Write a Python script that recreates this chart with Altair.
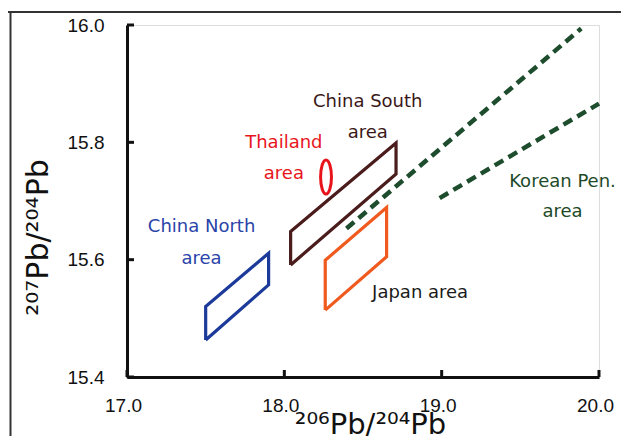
import altair as alt
import pandas as pd

# ---- data ----
china_north_x = [17.50, 17.50, 17.90, 17.90, 17.50]
china_north_y = [15.463, 15.520, 15.611, 15.557, 15.463]

china_south_x = [18.04, 18.04, 18.71, 18.71, 18.04]
china_south_y = [15.591, 15.648, 15.799, 15.746, 15.591]

japan_x = [18.26, 18.26, 18.65, 18.65, 18.26]
japan_y = [15.514, 15.599, 15.689, 15.605, 15.514]

thailand_center = [18.265, 15.741]

korean_upper_x = [18.395, 19.887]
korean_upper_y = [15.653, 15.994]
korean_lower_x = [18.987, 20.0]
korean_lower_y = [15.705, 15.866]

label_texts = ["China South", "area", "Thailand", "area", "China North", "area",
               "Korean Pen.", "area", "Japan area"]
label_x = [18.53, 18.53, 17.997, 17.997, 17.474, 17.474, 19.768, 19.768, 18.863]
label_y = [15.869, 15.816, 15.799, 15.746, 15.655, 15.601, 15.733, 15.682, 15.543]
label_colors = ["#3b1818", "#3b1818", "#e8141c", "#e8141c", "#2a44a8", "#2a44a8",
                "#1e4a28", "#1e4a28", "#1a1a1a"]

x_ticks = [17.0, 18.0, 19.0, 20.0]
y_ticks = [15.4, 15.6, 15.8, 16.0]

regions = ["China North", "China South", "Japan"]
region_colors = ["#1c3a9a", "#4a1c1c", "#f05a1e"]

# ---- tables ----
rows = []
for name, xs, ys in [("China North", china_north_x, china_north_y),
                     ("China South", china_south_x, china_south_y),
                     ("Japan", japan_x, japan_y)]:
    for i, (a, b) in enumerate(zip(xs, ys)):
        rows.append({"region": name, "order": i, "x": a, "y": b})
poly_df = pd.DataFrame(rows)

dash_rows = []
for name, xs, ys in [("upper", korean_upper_x, korean_upper_y),
                     ("lower", korean_lower_x, korean_lower_y)]:
    for i, (a, b) in enumerate(zip(xs, ys)):
        dash_rows.append({"line": name, "order": i, "x": a, "y": b})
dash_df = pd.DataFrame(dash_rows)

label_df = pd.DataFrame({"label": label_texts, "x": label_x, "y": label_y, "color": label_colors})
thai_df = pd.DataFrame({"x": [thailand_center[0]], "y": [thailand_center[1]]})
xt_df = pd.DataFrame({"v": x_ticks})
yt_df = pd.DataFrame({"v": y_ticks})
one_df = pd.DataFrame({"a": [0]})

W, H = 472, 352
xscale = alt.Scale(domain=[17.0, 20.0], nice=False, zero=False)
yscale = alt.Scale(domain=[15.4, 16.0], nice=False, zero=False)

TICKFONT = "Liberation Sans"

xaxis = alt.Axis(values=x_ticks, format=".1f", grid=False, ticks=False,
                 domainColor="#111111", domainWidth=3, labelFlush=False,
                 labelFont=TICKFONT, labelFontSize=19, labelColor="#111111",
                 labelPadding=19, labelOffset=-4,
                 title="²⁰⁶Pb/²⁰⁴Pb", titleFont="DejaVu Sans", titleFontSize=29,
                 titleFontWeight="normal", titleColor="#111111",
                 titleX=243, titleY=56, titleBaseline="alphabetic")
yaxis = alt.Axis(values=y_ticks, format=".1f", grid=False, ticks=False,
                 domainColor="#111111", domainWidth=3, labelFlush=False,
                 labelFont=TICKFONT, labelFontSize=19, labelColor="#111111",
                 labelPadding=23,
                 title="²⁰⁷Pb/²⁰⁴Pb", titleFont="DejaVu Sans", titleFontSize=30,
                 titleFontWeight="normal", titleColor="#111111",
                 titleAngle=270, titleX=-80, titleY=212, titleBaseline="alphabetic")

polys = alt.Chart(poly_df).mark_line(strokeWidth=3.2, strokeJoin="miter").encode(
    x=alt.X("x:Q", scale=xscale, axis=xaxis),
    y=alt.Y("y:Q", scale=yscale, axis=yaxis),
    color=alt.Color("region:N", scale=alt.Scale(domain=regions, range=region_colors), legend=None),
    order="order:Q",
)

dashes = alt.Chart(dash_df).mark_line(strokeWidth=4.5, strokeDash=[10, 6], color="#1e4d2e").encode(
    x=alt.X("x:Q", scale=xscale),
    y=alt.Y("y:Q", scale=yscale),
    detail="line:N",
    order="order:Q",
)

k = 0.177
a = 0.32
ellipse_path = (f"M0,-1 C{k},-1 {a},-0.5523 {a},0 C{a},0.5523 {k},1 0,1 "
                f"C-{k},1 -{a},0.5523 -{a},0 C-{a},-0.5523 -{k},-1 0,-1 Z")
thai = alt.Chart(thai_df).mark_point(shape=ellipse_path, size=1156, filled=False,
                                     stroke="#e8141c", strokeWidth=3, opacity=1).encode(
    x=alt.X("x:Q", scale=xscale),
    y=alt.Y("y:Q", scale=yscale),
)

labels = alt.Chart(label_df).mark_text(font="DejaVu Sans", fontSize=18, baseline="middle",
                                       align="center").encode(
    x=alt.X("x:Q", scale=xscale),
    y=alt.Y("y:Q", scale=yscale),
    text="label:N",
    color=alt.Color("color:N", scale=None),
)

yticks = alt.Chart(yt_df).mark_rule(color="#111111", strokeWidth=3).encode(
    y=alt.Y("v:Q", scale=yscale),
    x=alt.value(0),
    x2=alt.value(7),
)
xticks = alt.Chart(xt_df).mark_rule(color="#111111", strokeWidth=3).encode(
    x=alt.X("v:Q", scale=xscale),
    y=alt.value(H),
    y2=alt.value(H - 7),
)

frame_top = alt.Chart(one_df).mark_rule(color="#333333", strokeWidth=2).encode(
    x=alt.value(-127), x2=alt.value(510), y=alt.value(-13))
frame_left = alt.Chart(one_df).mark_rule(color="#333333", strokeWidth=2).encode(
    x=alt.value(-116.5), y=alt.value(-13), y2=alt.value(425))

chart = alt.layer(polys, dashes, thai, labels, yticks, xticks, frame_top, frame_left).properties(
    width=W, height=H,
    padding={"left": 119, "top": 17, "right": 22, "bottom": 59},
    autosize=alt.AutoSizeParams(type="none"),
).configure_view(stroke=None).configure(background="white")

chart.save("out.html", embed_options={"renderer": "svg", "actions": False})
